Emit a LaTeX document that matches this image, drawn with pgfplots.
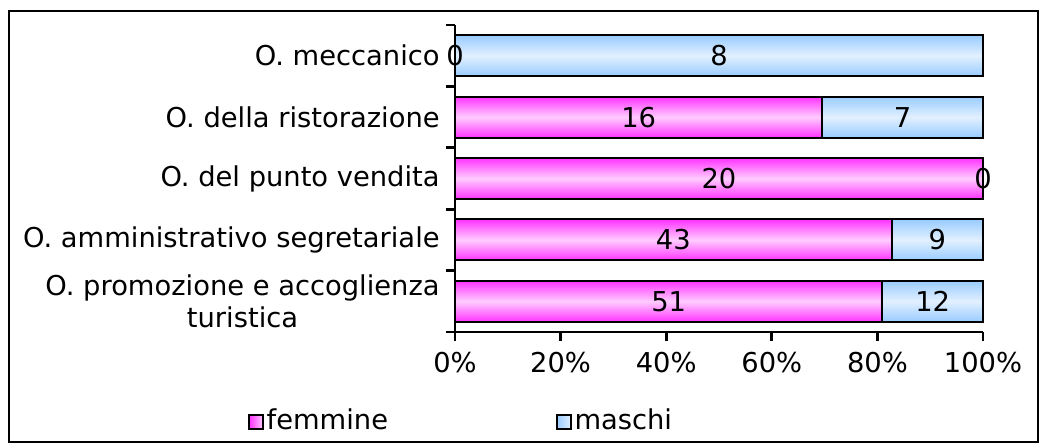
\documentclass[border=0pt]{standalone}
\usepackage{pgfplots}
\pgfplotsset{compat=1.18}
\usepackage{fontspec}
\setmainfont{DejaVu Sans}
\definecolor{pinkE}{HTML}{FF33FF}
\definecolor{pinkM}{HTML}{FFCCFF}
\definecolor{blueE}{HTML}{99CCFF}
\definecolor{blueM}{HTML}{E2F0FF}
\pgfplotsset{
  mbar/.style={forget plot, xbar, bar width=30.75pt, bar shift=0pt, draw=black, line width=1.5pt,
    top color=blueE, bottom color=blueE, middle color=blueM},
  fbar/.style={forget plot, xbar, bar width=30.75pt, bar shift=0pt, draw=black, line width=1.5pt,
    top color=pinkE, bottom color=pinkE, middle color=pinkM},
}
\begin{document}
\fontsize{20.5}{24}\selectfont
\begin{tikzpicture}
\path (0,0) rectangle (783.75pt,-336pt);
\draw[line width=1.5pt] (6.75pt,-8.25pt) rectangle (778.5pt,-331.5pt);
\begin{axis}[
  at={(341.25pt,-249pt)}, anchor=south west,
  scale only axis, width=396pt, height=230.25pt,
  xmin=0, xmax=100, ymin=-0.5, ymax=4.5,
  axis x line*=bottom, axis y line*=left,
  axis line style={line width=2pt, -},
  tick style={line width=2pt, black},
  tick align=outside, major tick length=6.5pt,
  xtick={0,20,...,100},
  xticklabels={0\%,20\%,40\%,60\%,80\%,100\%},
  xticklabel style={yshift=-2pt},
  ytick={-0.5,0.5,...,4.5},
  y tick label as interval,
  yticklabels={{O. promozione e accoglienza\\turistica},{O. amministrativo segretariale},{O. del punto vendita},{O. della ristorazione},{O. meccanico}},
  yticklabel style={align=center, xshift=2pt},
  clip=false,
  legend columns=2,
  legend style={at={(-0.392,-0.292)}, anchor=west, draw=none, fill=none, inner sep=0pt,
    /tikz/every even column/.append style={column sep=124pt}},
]
% maschi (full bar underneath, one plot per bar)
\addplot[mbar] coordinates {(100,0)};
\addplot[mbar] coordinates {(100,1)};
\addplot[mbar] coordinates {(100,2)};
\addplot[mbar] coordinates {(100,3)};
\addplot[mbar] coordinates {(100,4)};
% femmine
\addplot[fbar] coordinates {(80.952,0)};
\addplot[fbar] coordinates {(82.692,1)};
\addplot[fbar] coordinates {(100,2)};
\addplot[fbar] coordinates {(69.565,3)};
% labels (counts)
\addplot[forget plot, draw=none, mark=none, nodes near coords, point meta=explicit symbolic,
  nodes near coords style={anchor=center}]
  coordinates {(40.476,0)[51] (41.346,1)[43] (50,2)[20] (34.783,3)[16] (0,4)[0]
               (90.476,0)[12] (91.346,1)[9] (100,2)[0] (84.783,3)[7] (50,4)[8]};
\addlegendimage{legend image code/.code={\draw[line width=1.3pt, draw=black, left color=pinkE, right color=pinkM] (0pt,-5.25pt) rectangle (10.5pt,5.25pt);}}
\addlegendentry{femmine}
\addlegendimage{legend image code/.code={\draw[line width=1.3pt, draw=black, left color=blueE, right color=blueM] (0pt,-5.25pt) rectangle (10.5pt,5.25pt);}}
\addlegendentry{maschi}
\end{axis}
\end{tikzpicture}
\end{document}
